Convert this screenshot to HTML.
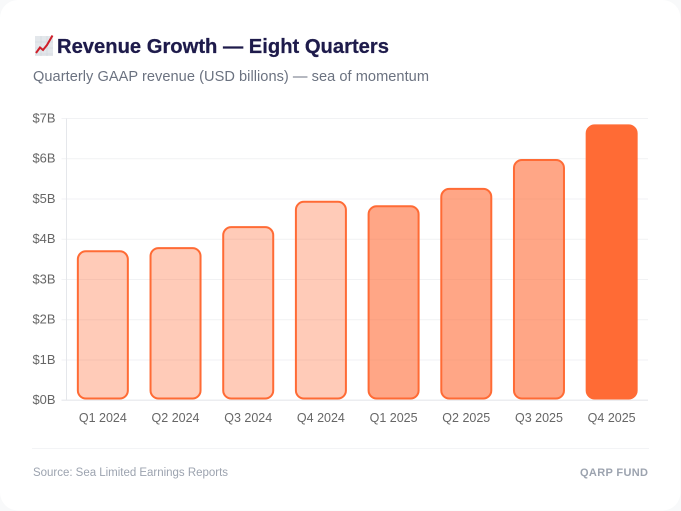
<!DOCTYPE html>
<html lang="en">
<head>
<meta charset="utf-8">
<title>Revenue Growth — Eight Quarters</title>
<style>
html,body{margin:0;padding:0;width:681px;height:511px;overflow:hidden;background:#f8f9fa}
svg{display:block;font-family:"Liberation Sans",sans-serif}
</style>
</head>
<body>
<svg id="chart" xmlns="http://www.w3.org/2000/svg" width="681" height="511" viewBox="0 0 681 511">
  <rect x="0" y="0" width="680.5" height="510.5" rx="18" fill="#ffffff"/>
  <g>
    <rect x="35" y="36" width="18" height="20" fill="#e3e7eb"/>
    <path d="M35 54H53M35 48H53M35 42H53M41 36V56M47 36V56" stroke="#cfd5db" stroke-width=".6" fill="none"/>
    <path d="M36 53L40 47.5L43 50L47 45L52.5 35.5" stroke="#cf1f2a" stroke-width="2" fill="none"/>
  </g>
  <text x="57" y="53" font-size="20" font-weight="700" fill="#1e1b4b" stroke="#1e1b4b" stroke-width="0.25" textLength="332" lengthAdjust="spacingAndGlyphs">Revenue Growth — Eight Quarters</text>
  <text x="33" y="81" font-size="14.6" fill="#6b7280" textLength="396" lengthAdjust="spacing">Quarterly GAAP revenue (USD billions) — sea of momentum</text>
  <g id="grid"></g>
  <g id="bars"></g>
  <g id="axes"></g>
  <line x1="32" x2="649" y1="448.5" y2="448.5" stroke="#f3f4f6" stroke-width="1"/>
  <text x="33" y="476" font-size="11.5" fill="#9ca3af" textLength="195" lengthAdjust="spacing">Source: Sea Limited Earnings Reports</text>
  <text x="648" y="476" font-size="11" font-weight="700" fill="#9ca3af" text-anchor="end" textLength="68" lengthAdjust="spacing">QARP FUND</text>
</svg>
<script>
const categories = ["Q1 2024","Q2 2024","Q3 2024","Q4 2024","Q1 2025","Q2 2025","Q3 2025","Q4 2025"];
const revenue = [3.7,3.78,4.3,4.93,4.82,5.25,5.97,6.83];
const barOpacityGroups = [0.35,0.35,0.35,0.35,0.6,0.6,0.6,1];
const yTicks = [0,1,2,3,4,5,6,7];
const yTickLabels = ["$0B","$1B","$2B","$3B","$4B","$5B","$6B","$7B"];

const SVGNS = "http://www.w3.org/2000/svg";
const plot = {left:66.5, right:648, top:118.5, bottom:400.2, yMax:7};
const yScale = v => plot.bottom - (v / plot.yMax) * (plot.bottom - plot.top);
const band = (plot.right - plot.left) / categories.length;
const xCenter = i => plot.left + band * (i + 0.5);
const barWidth = 50;

function mk(tag, attrs, parent){
  const el = document.createElementNS(SVGNS, tag);
  for (const k in attrs) el.setAttribute(k, attrs[k]);
  parent.appendChild(el);
  return el;
}
const gridG = document.getElementById("grid");
const barsG = document.getElementById("bars");
const axesG = document.getElementById("axes");

yTicks.forEach((t, i) => {
  const y = yScale(t);
  const line = mk("line", {x1:plot.left-5, x2:plot.right, y1:y, y2:y, stroke: t===0 ? "#e5e7eb" : "#f1f2f4", "stroke-width":t===0 ? 1.2 : 1}, t===0 ? axesG : gridG);
  
  
  const label = mk("text", {x:55.5, y:y+4, "font-size":12.5, fill:"#666666", "text-anchor":"end", textLength:23, lengthAdjust:"spacingAndGlyphs"}, axesG);
  label.textContent = yTickLabels[i];
  
  
});
const yAxis = mk("line", {x1:plot.left, x2:plot.left, y1:plot.top, y2:plot.bottom, stroke:"#e5e7eb", "stroke-width":1}, axesG);



function roundedBar(x, y, w, h, r){
  return `M${x} ${y+r}A${r} ${r} 0 0 1 ${x+r} ${y}H${x+w-r}A${r} ${r} 0 0 1 ${x+w} ${y+r}V${y+h-r}A${r} ${r} 0 0 1 ${x+w-r} ${y+h}H${x+r}A${r} ${r} 0 0 1 ${x} ${y+h-r}Z`;
}
categories.forEach((c, i) => {
  const top = yScale(revenue[i]);
  const x = xCenter(i) - barWidth / 2;
  const bar = mk("path", {
    d: roundedBar(x, top, barWidth, plot.bottom - top - 1.7, 8),
    fill: "rgba(255,107,53," + barOpacityGroups[i] + ")",
    stroke: "#ff6b35",
    "stroke-width": 2
  }, barsG);
  
  
  const label = mk("text", {x:xCenter(i), y:422, "font-size":12.5, fill:"#666666", "text-anchor":"middle", textLength:48, lengthAdjust:"spacingAndGlyphs"}, axesG);
  label.textContent = c;
  
  
});
</script>
</body>
</html>
